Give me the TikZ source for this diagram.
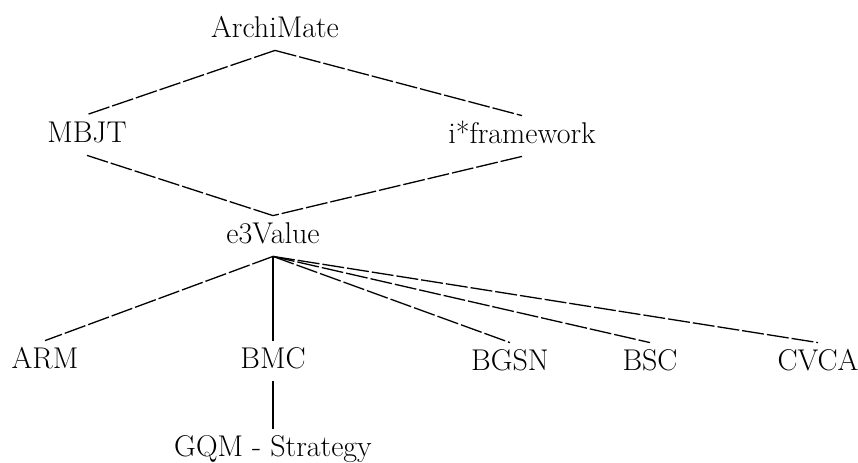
\documentclass[tikz,border=0pt]{standalone}
\usepackage{tikz}
\usetikzlibrary{positioning}
\tikzset{
  lbl/.style={font=\fontsize{15}{18}\selectfont,anchor=base,text height=0.7em,text depth=0pt,inner xsep=2pt,inner ysep=6.5pt},
  dashlink/.style={line width=0.65pt,dash pattern=on 11pt off 1.5pt},
  solidlink/.style={line width=1.2pt}
}
\begin{document}
\begin{tikzpicture}[x=0.5pt,y=-0.5pt]
        \useasboundingbox (0,0) rectangle (858,462);
        % models
        \node[lbl] (archimate) at (275,37) {ArchiMate};
        \node[lbl] (mbjt) at (87,142) {MBJT};
        \node[lbl] (istar) at (522,143) {i*framework};
        \node[lbl] (e3value) at (273,243) {e3Value};
        \node[lbl] (arm) at (45,368) {ARM};
        \node[lbl] (bmc) at (273,368) {BMC};
        \node[lbl] (bgsn) at (510,370) {BGSN};
        \node[lbl] (bsc) at (650,370) {BSC};
        \node[lbl] (cvca) at (818,370) {CVCA};
        \node[lbl] (gqm) at (273,456) {GQM - Strategy};
        % links
        \draw[dashlink] (archimate.south)--(mbjt.north);
        \draw[dashlink] (archimate.south)--(istar.north);
        \draw[dashlink] (mbjt.south)--(e3value.north);
        \draw[dashlink] (istar.south)--(e3value.north);
        \draw[dashlink] (e3value.south)--(arm.north);
        \draw[solidlink] (e3value.south)--(bmc.north);
        \draw[dashlink] (e3value.south)--(bgsn.north);
        \draw[dashlink] (e3value.south)--(bsc.north);
        \draw[dashlink] (e3value.south)--(cvca.north);
        \draw[solidlink] (bmc.south)--(gqm.north);
      \end{tikzpicture}
\end{document}
